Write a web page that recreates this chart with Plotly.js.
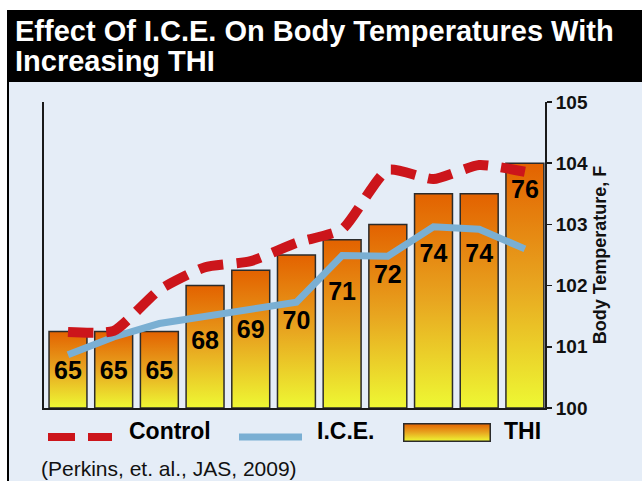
<!DOCTYPE html>
<html>
<head>
<meta charset="utf-8">
<script src="https://cdn.plot.ly/plotly-3.0.1.min.js"></script>
<style>html,body{margin:0;padding:0;background:#fff;}#chart{width:642px;height:481px;}</style>
</head>
<body>
<div id="chart"></div>
<script>
// ---- data ----
const thiValues = [65, 65, 65, 68, 69, 70, 71, 72, 74, 74, 76];
const controlTemps = [101.24, 101.26, 101.93, 102.30, 102.40, 102.70, 102.92, 103.89, 103.74, 103.97, 103.86];
const iceTemps = [100.87, 101.16, 101.38, 101.49, 101.61, 101.73, 102.49, 102.48, 102.96, 102.92, 102.60];
const tempTicks = [100, 101, 102, 103, 104, 105];
const seriesNames = ['Control', 'I.C.E.', 'THI'];
const titleLines = ['Effect Of I.C.E. On Body Temperatures With', 'Increasing THI'];
const yTitle = 'Body Temperature, F';
const citation = '(Perkins, et. al., JAS, 2009)';

// ---- style ----
const labelDrop = [2.7, 2.7, 2.7, 3.75, 4.0, 4.4, 3.55, 3.45, 4.05, 4.05, 1.85];
const NARROW = '"Liberation Sans Narrow", "Arial Narrow", "Liberation Sans", Arial, sans-serif';
const SANS = '"Liberation Sans", Arial, Helvetica, sans-serif';
const BG = '#E5EDF7';
const RED = '#CC151B';
const BLUE = '#7AAFD3';
const gradScale = [[0, '#EEF833'], [0.5, '#E8A620'], [1, '#E36200']];
const W = 642, H = 481, ML = 44, MR = 97, MT = 102, MB = 73;
const PW = W - ML - MR, PH = H - MT - MB;
const px = v => (v - ML) / PW;
const py = v => (H - MB - v) / PH;
const barHalf = 0.415;
const barBase = 60;

const idx = thiValues.map((_, i) => i);
const traces = [];
thiValues.forEach((v, i) => {
  traces.push({
    x: [i - barHalf, i + barHalf, i + barHalf, i - barHalf, i - barHalf],
    y: [barBase, barBase, v, v, barBase],
    type: 'scatter', mode: 'lines', fill: 'toself',
    fillgradient: {type: 'vertical', colorscale: gradScale},
    line: {color: '#2b2b2b', width: 1.5},
    xaxis: 'x', yaxis: 'y', showlegend: false, hoverinfo: 'skip', name: seriesNames[2]
  });
});
traces.push({
  x: idx, y: iceTemps, type: 'scatter', mode: 'lines', name: seriesNames[1],
  line: {color: BLUE, width: 7}, xaxis: 'x', yaxis: 'y2', showlegend: false
});
traces.push({
  x: idx, y: controlTemps, type: 'scatter', mode: 'lines', name: seriesNames[0],
  line: {color: RED, width: 10, dash: '25px,13px', shape: 'spline', smoothing: 0.55},
  xaxis: 'x', yaxis: 'y2', showlegend: false
});
traces.push({
  x: idx, y: thiValues.map((v, i) => v - labelDrop[i]), type: 'scatter', mode: 'text',
  text: thiValues.map(String), textposition: 'middle center',
  textfont: {family: SANS, size: 25, color: '#000', weight: 'bold'},
  xaxis: 'x', yaxis: 'y', showlegend: false, hoverinfo: 'skip'
});

const gradSvg = "<svg xmlns='http://www.w3.org/2000/svg' width='88' height='19'>" +
  "<defs><linearGradient id='g' x1='0' y1='0' x2='0' y2='1'>" +
  "<stop offset='0' stop-color='#E36200'/><stop offset='0.5' stop-color='#E8A620'/><stop offset='1' stop-color='#EEF833'/>" +
  "</linearGradient></defs><rect x='0.75' y='0.75' width='86.5' height='17.5' fill='url(#g)' stroke='#2b2b2b' stroke-width='1.5'/></svg>";

const layout = {
  width: W, height: H,
  margin: {l: ML, r: MR, t: MT, b: MB, pad: 0},
  paper_bgcolor: '#ffffff', plot_bgcolor: 'rgba(0,0,0,0)',
  showlegend: false,
  xaxis: {
    range: [-0.525, 10.44], showgrid: false, zeroline: false, showticklabels: false,
    ticks: '', showline: true, linecolor: '#1a1a1a', linewidth: 2, fixedrange: true
  },
  yaxis: {
    range: [60, 80], showgrid: false, zeroline: false, showticklabels: false,
    showline: true, linecolor: '#1a1a1a', linewidth: 2,
    ticks: 'inside', tickvals: [80], ticklen: 4, tickwidth: 2, tickcolor: '#1a1a1a'
  },
  yaxis2: {
    range: [100, 105], overlaying: 'y', side: 'right', anchor: 'x',
    showgrid: false, zeroline: false, showline: true, linecolor: '#1a1a1a', linewidth: 2,
    ticks: 'outside', ticklen: 5, tickwidth: 1.5, tickcolor: '#1a1a1a',
    tickvals: tempTicks, ticktext: tempTicks.map(String),
    tickfont: {family: NARROW, size: 19, color: '#111', weight: 'bold'},
    title: {text: yTitle, font: {family: NARROW, size: 18, color: '#111', weight: 'bold'}, standoff: 6}
  },
  shapes: [
    {type: 'rect', xref: 'paper', yref: 'paper', x0: px(8), x1: px(W + 2), y0: py(H + 2), y1: py(82), fillcolor: BG, line: {width: 0}, layer: 'below'},
    {type: 'rect', xref: 'paper', yref: 'paper', x0: px(8), x1: px(W + 2), y0: py(82), y1: py(10), fillcolor: '#000', line: {width: 0}, layer: 'below'},
    {type: 'line', xref: 'paper', yref: 'paper', x0: px(8), x1: px(8), y0: py(10), y1: py(H + 2), line: {color: '#000', width: 2}, layer: 'below'},
    {type: 'line', xref: 'paper', yref: 'paper', x0: px(48), x1: px(75), y0: py(437), y1: py(437), line: {color: RED, width: 8}},
    {type: 'line', xref: 'paper', yref: 'paper', x0: px(88), x1: px(112), y0: py(437), y1: py(437), line: {color: RED, width: 8}},
    {type: 'line', xref: 'paper', yref: 'paper', x0: px(239), x1: px(302), y0: py(437), y1: py(437), line: {color: BLUE, width: 7}}
  ],
  images: [{
    source: 'data:image/svg+xml;charset=utf-8,' + encodeURIComponent(gradSvg),
    xref: 'paper', yref: 'paper', x: px(403), y: py(423), sizex: 88 / PW, sizey: 19 / PH,
    xanchor: 'left', yanchor: 'top', sizing: 'stretch', layer: 'above'
  }],
  annotations: [
    {text: titleLines[0], xref: 'paper', yref: 'paper', x: px(13), y: py(31), xanchor: 'left', yanchor: 'middle', showarrow: false,
     font: {family: SANS, size: 29, color: '#fff', weight: 'bold'}},
    {text: titleLines[1], xref: 'paper', yref: 'paper', x: px(13), y: py(61), xanchor: 'left', yanchor: 'middle', showarrow: false,
     font: {family: SANS, size: 29, color: '#fff', weight: 'bold'}},
    {text: seriesNames[0], xref: 'paper', yref: 'paper', x: px(127), y: py(431), xanchor: 'left', yanchor: 'middle', showarrow: false,
     font: {family: SANS, size: 23, color: '#000', weight: 'bold'}},
    {text: seriesNames[1], xref: 'paper', yref: 'paper', x: px(315), y: py(431), xanchor: 'left', yanchor: 'middle', showarrow: false,
     font: {family: SANS, size: 23, color: '#000', weight: 'bold'}},
    {text: seriesNames[2], xref: 'paper', yref: 'paper', x: px(502), y: py(431), xanchor: 'left', yanchor: 'middle', showarrow: false,
     font: {family: SANS, size: 23, color: '#000', weight: 'bold'}},
    {text: citation, xref: 'paper', yref: 'paper', x: px(39), y: py(468), xanchor: 'left', yanchor: 'middle', showarrow: false,
     font: {family: SANS, size: 21, color: '#111'}}
  ]
};

Plotly.newPlot('chart', traces, layout, {displayModeBar: false, staticPlot: true});
</script>
</body>
</html>
